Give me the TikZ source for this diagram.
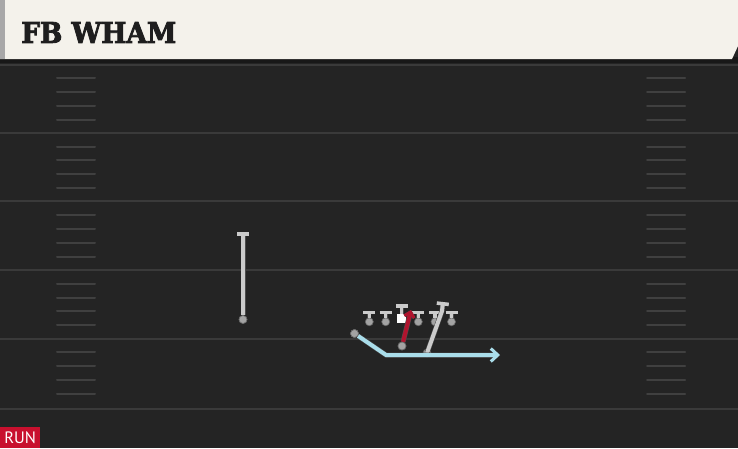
\documentclass[tikz,border=0pt]{standalone}
\usepackage{fontspec}
\setmainfont{DejaVu Serif}
\newfontfamily\titlefont{DejaVu Serif}[BoldFeatures={FakeBold=3}]
\newfontfamily\runfont{PT Sans}
\usetikzlibrary{arrows.meta}
\definecolor{fieldbg}{HTML}{242424}
\definecolor{yardc}{HTML}{3A3A3A}
\definecolor{hashc}{HTML}{404040}
\definecolor{headc}{HTML}{F4F2EB}
\definecolor{stripec}{HTML}{A8A8A8}
\definecolor{shadowc}{HTML}{181818}
\definecolor{plgray}{HTML}{CBCBCB}
\definecolor{dotgray}{HTML}{A3A3A3}
\definecolor{routeblue}{HTML}{A9DDEA}
\definecolor{routered}{HTML}{B0142E}
\definecolor{runred}{HTML}{C8102E}
\definecolor{titlec}{HTML}{1E1E1E}
\tikzset{
  yard/.style={draw=yardc, line width=2pt},
  hashmark/.style={draw=hashc, line width=2pt, line cap=round},
  pl/.style={circle, fill=dotgray, draw=black!60, line width=0.6pt, minimum size=8pt, inner sep=0pt},
  ctr/.style={rectangle, fill=white, minimum size=9pt, inner sep=0pt},
  tee/.style={draw=plgray, line width=3.2pt, preaction={draw=black!70, line width=4.2pt}, -{Bar[width=12pt,line width=3.5pt]}},
  graypath/.style={draw=plgray, line width=4pt, preaction={draw=black!70, line width=5pt}},
  bluepath/.style={draw=routeblue, line width=4pt, line join=round, preaction={draw=black!70, line width=5pt}},
  redpath/.style={draw=routered, line width=4pt, preaction={draw=black!70, line width=5pt}},
}
\begin{document}
\begin{tikzpicture}[x=1pt,y=-1pt]
\useasboundingbox (0,0) rectangle (738,448);
\fill[fieldbg] (0,0) rectangle (738,448);
% header
\fill[shadowc] (0,57) rectangle (738,63);
\fill[headc] (0,0) -- (738,0) -- (738,46) -- (732,59) -- (0,59) -- cycle;
\fill[stripec] (0,0) rectangle (4.5,59);
\node[anchor=west, text=titlec, font=\titlefont\bfseries\fontsize{28.5}{30}\selectfont, inner sep=0pt, xscale=0.93] (title) at (21,32.5) {FB WHAM};
% yard lines
\foreach \y in {64.5,132.7,201.3,270,338.5,408.5} \draw[yard] (0,\y) -- (738,\y);
\foreach \y in {64.5,132.7,201.3,270,338.5} {
  \foreach \k in {1,2,3,4} {
    \draw[hashmark] (57,\y+13.8*\k) -- (95,\y+13.8*\k);
    \draw[hashmark] (647,\y+13.8*\k) -- (685,\y+13.8*\k);
  }
}
% left receiver
\node[pl] (wr) at (243,319.5) {};
\coordinate (wrt) at (243,232);
\draw[graypath, -{Bar[width=12pt,line width=3.5pt]}] (wr) -- (wrt);
\node[pl] at (wr) {};
% linemen
\foreach \n/\x in {1/369.3,2/385.7,4/418.3,5/435,6/451.5} {
  \node[pl] (ol\n) at (\x,321.8) {};
  \coordinate (ol\n t) at (\x,310.8);
  \draw[tee] (ol\n) -- (ol\n t);
}
\node[ctr] (c) at (401.8,318.3) {};
\coordinate (ct) at (401.8,304);
\draw[tee] (c) -- (ct);
% diagonal gray blocker
\node[pl] (te) at (427,353) {};
\coordinate (teb) at (442,311);
\coordinate (tet) at (443,302);
\draw[graypath, -{Bar[width=12pt,line width=3.5pt]}] (te.center) -- (teb) -- (tet);
% blue route
\node[pl] (rb) at (354.5,333.5) {};
\coordinate (rbb) at (386,355);
\coordinate (rbe) at (500,355);
\draw[bluepath, -{Straight Barb[length=7pt,width=13pt,line width=3pt]}] (rb) -- (rbb) -- (rbe);
\node[pl] at (rb) {};
% red route
\node[pl] (fb) at (402,346) {};
\coordinate (fbe) at (411,310);
\draw[redpath, -{Straight Barb[length=5pt,width=10pt,line width=3pt]}] (fb) -- (fbe);
\node[pl] at (fb) {};
% run label
\node[fill=runred, text=white, anchor=south west, minimum width=40pt, minimum height=20.5pt, inner sep=0pt, font=\runfont\fontsize{16.5}{16.5}\selectfont] (run) at (0,448) {RUN};
\end{tikzpicture}
\end{document}
